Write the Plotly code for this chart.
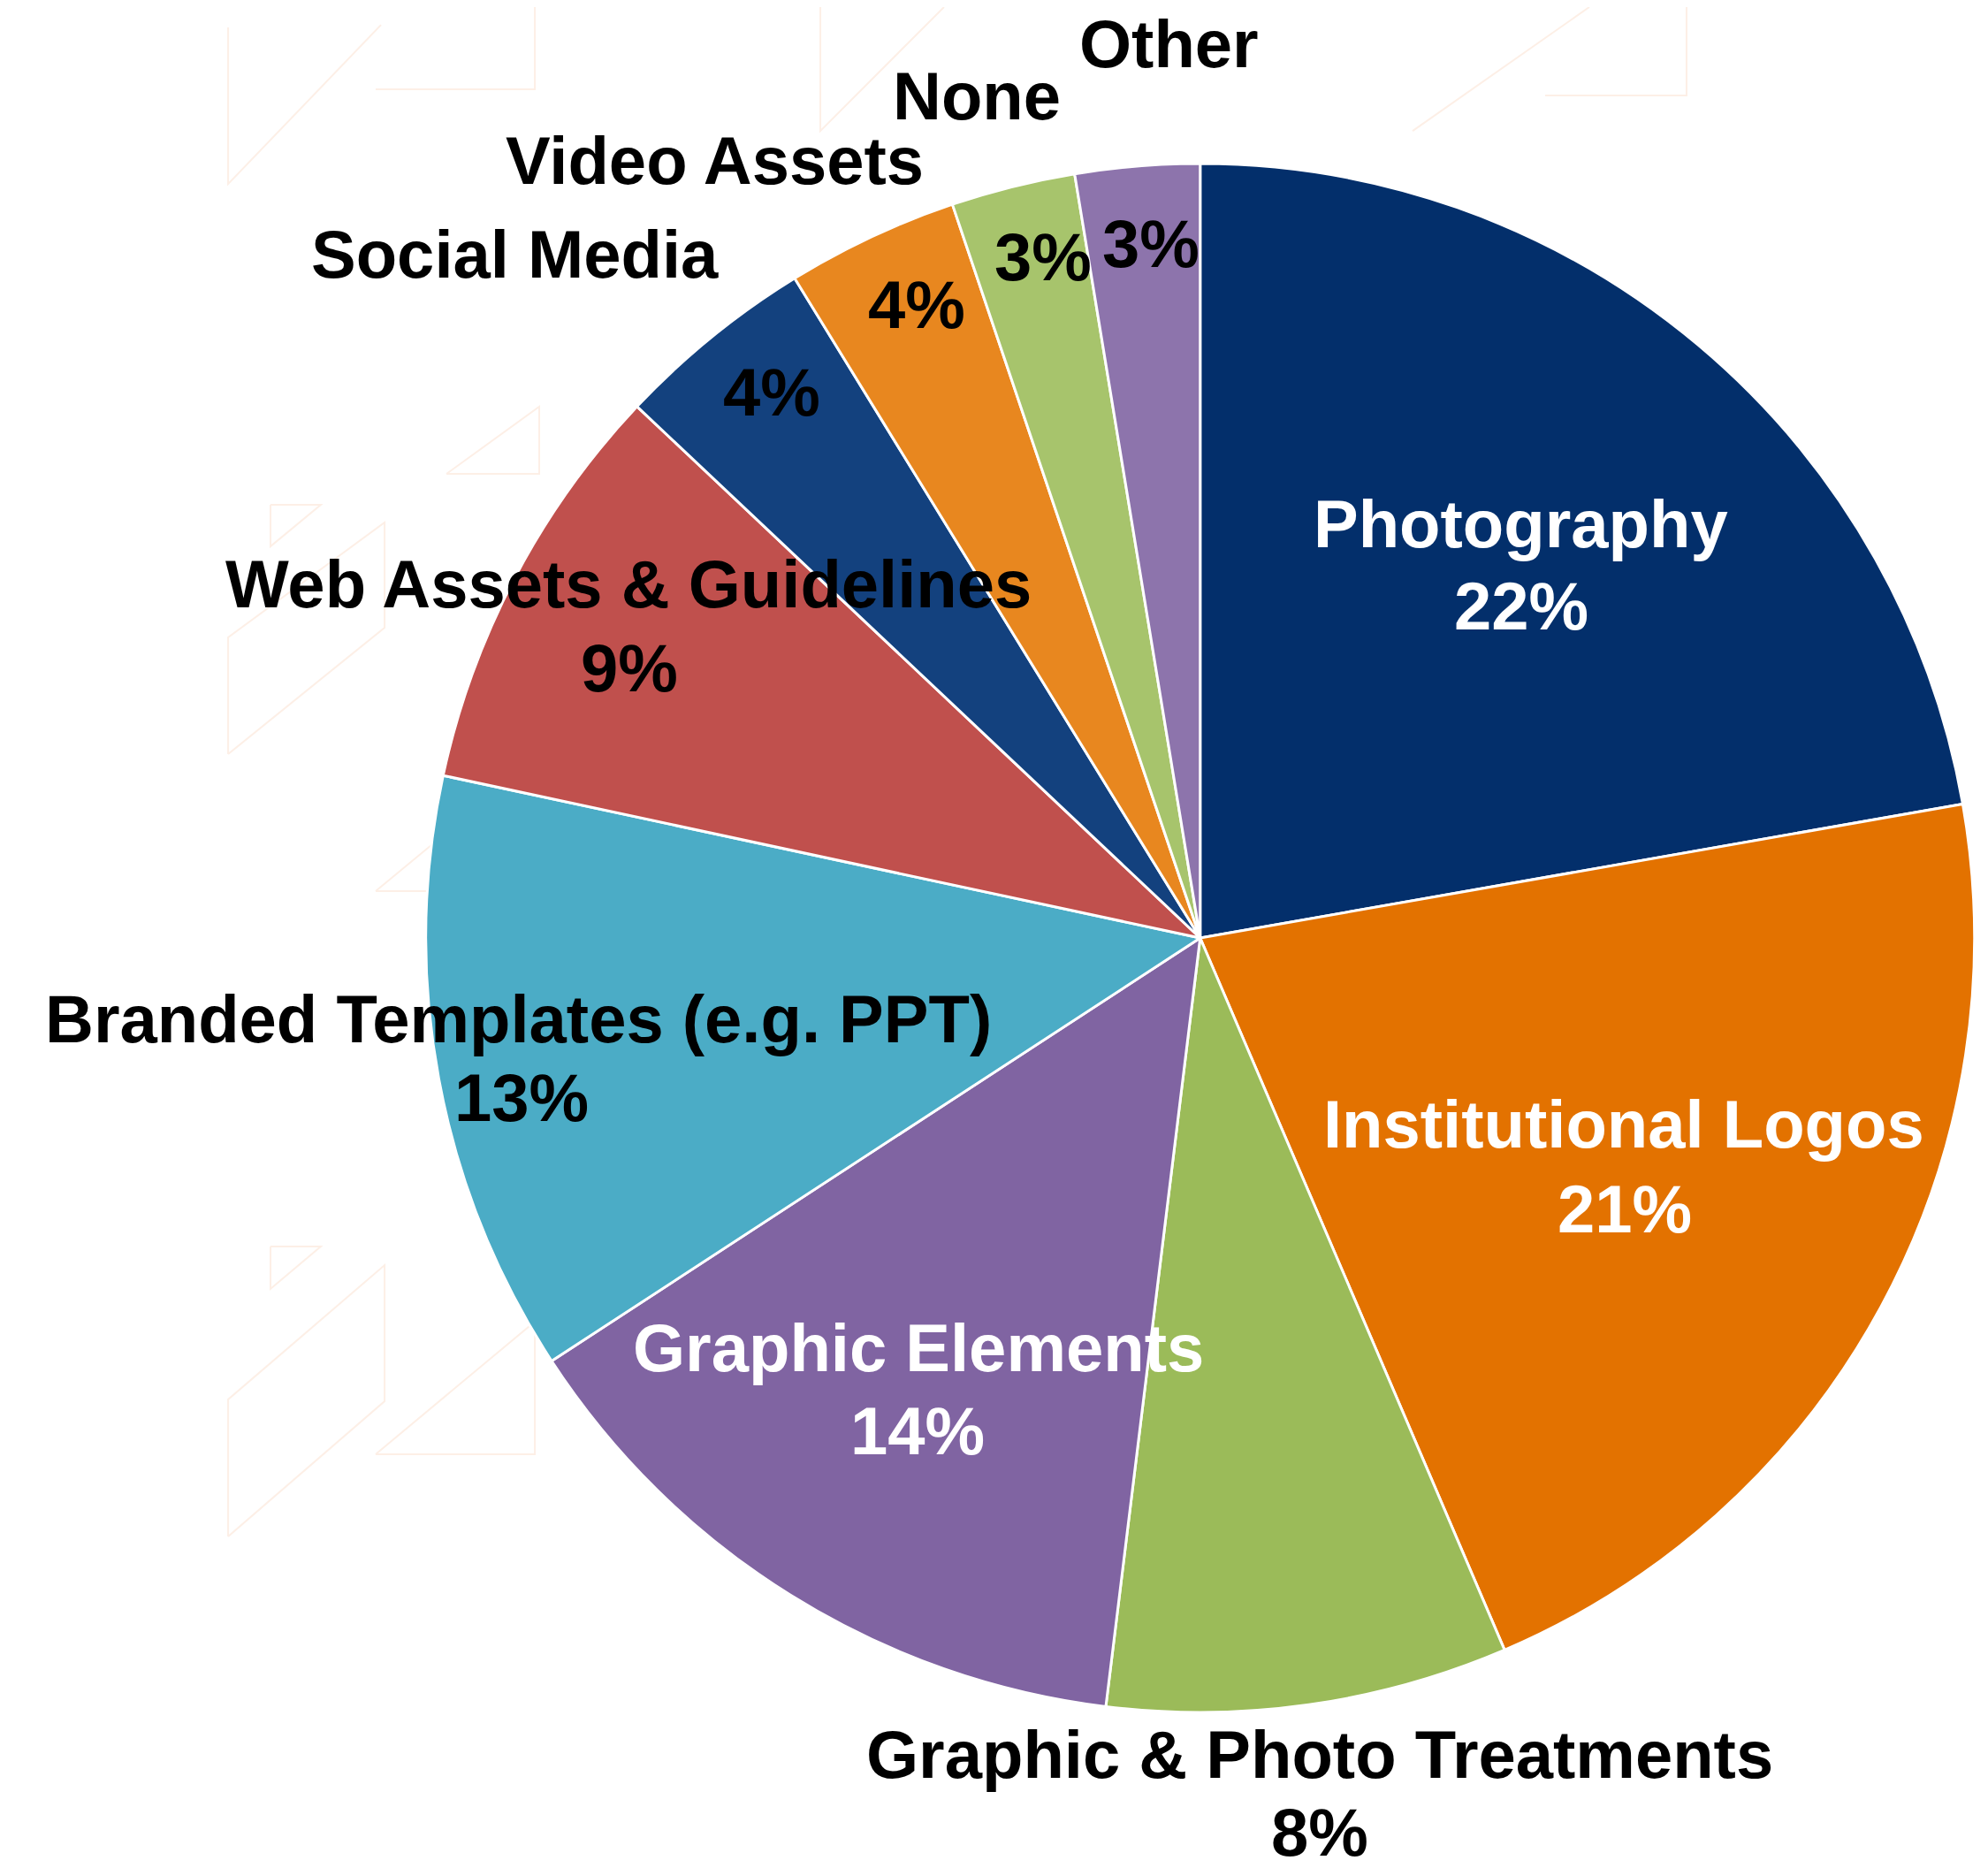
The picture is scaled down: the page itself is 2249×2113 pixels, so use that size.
import plotly.graph_objects as go

W, H = 2249, 2113

# slice data, clockwise from 12 o'clock
categories = [
    "Photography", "Institutional Logos", "Graphic & Photo Treatments",
    "Graphic Elements", "Branded Templates (e.g. PPT)", "Web Assets & Guidelines",
    "Social Media", "Video Assets", "None", "Other",
]
shares = [22.3, 21.4, 8.4, 13.9, 12.6, 8.7, 4.2, 3.6, 2.6, 2.6]

colors = ["#032F6B", "#E37200", "#9BBB59", "#8064A2", "#4BACC6",
          "#C0504D", "#13417E", "#E8871F", "#A7C46C", "#8D74AC"]
text_colors = ["white", "white", "black", "white", "black",
               "black", "black", "black", "black", "black"]

# label placement in pixels (name centre, percent centre) - hand placed like the original
name_pos = [(1712, 584), (1829, 1263), (1485, 1976), (1031, 1516), (579, 1144),
            (703, 652), (574, 279), (800, 174), (1097, 101), (1314, 41)]
pct_pos = [(1713, 677), (1830, 1359), (1485, 2064), (1030, 1610), (582, 1233),
           (704, 748), (865, 435), (1029, 336), (1172, 283), (1294, 267)]

FONT = "Liberation Sans, Arial, sans-serif"
FSIZE = 76

fig = go.Figure()

fig.add_trace(go.Pie(
    labels=categories,
    values=shares,
    sort=False,
    direction="clockwise",
    rotation=0,
    marker=dict(colors=colors, line=dict(color="white", width=3)),
    textinfo="none",
    hoverinfo="label+percent",
    showlegend=False,
    domain=dict(x=[0.2106, 0.9897], y=[0.0871, 0.9162]),
))

total = sum(shares)
annotations = []
for name, v, col, (nx, ny), (qx, qy) in zip(categories, shares, text_colors, name_pos, pct_pos):
    annotations.append(dict(
        x=nx / W, y=1 - ny / H, xref="paper", yref="paper",
        text=f"<b>{name}</b>", showarrow=False,
        xanchor="center", yanchor="middle",
        font=dict(family=FONT, size=FSIZE, color=col),
    ))
    annotations.append(dict(
        x=qx / W, y=1 - qy / H, xref="paper", yref="paper",
        text=f"<b>{round(v / total * 100)}%</b>", showarrow=False,
        xanchor="center", yanchor="middle",
        font=dict(family=FONT, size=FSIZE, color=col),
    ))

# faint decorative outline pattern in the background
pattern = [
    [(250, 23), (250, 200), (423, 20)],
    [(417, 93), (597, 93), (597, 0)],
    [(250, 845), (250, 713), (427, 583), (427, 702), (250, 845)],
    [(497, 528), (602, 452), (602, 528), (497, 528)],
    [(298, 563), (355, 563), (298, 610), (298, 563)],
    [(417, 1000), (520, 915), (597, 850), (597, 1000), (417, 1000)],
    [(250, 1730), (250, 1575), (427, 1423), (427, 1577), (250, 1730)],
    [(417, 1637), (597, 1487), (597, 1637), (417, 1637)],
    [(298, 1402), (355, 1402), (298, 1450), (298, 1402)],
    [(920, 0), (920, 140), (1060, 0)],
    [(1590, 140), (1790, 0)],
    [(1740, 100), (1900, 100), (1900, 0)],
    [(2240, 100), (2240, 220)],
]
shapes = []
for pts in pattern:
    path = "M " + " L ".join(f"{x / W:.4f},{1 - y / H:.4f}" for x, y in pts)
    shapes.append(dict(type="path", path=path, xref="paper", yref="paper",
                       line=dict(color="#FDEFE6", width=2), layer="below"))

fig.update_layout(
    width=W, height=H,
    margin=dict(l=0, r=0, t=0, b=0),
    paper_bgcolor="white",
    plot_bgcolor="white",
    annotations=annotations,
    shapes=shapes,
)

fig.write_html("out.html")
